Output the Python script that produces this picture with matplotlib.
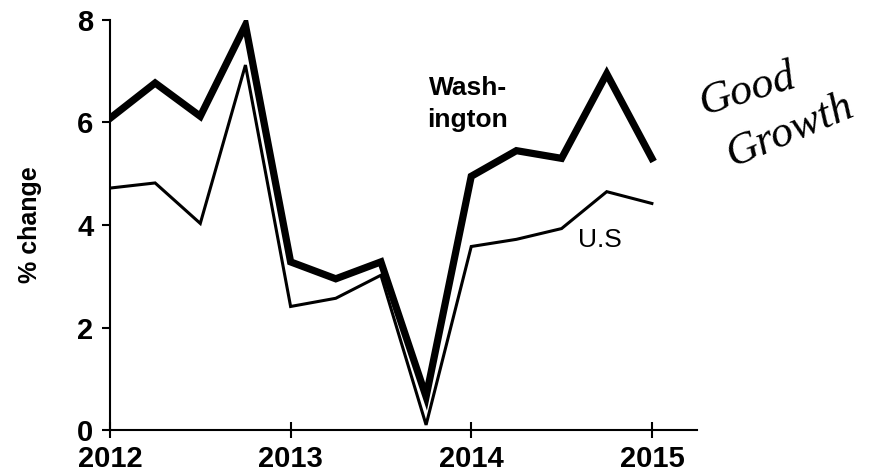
import numpy as np
import matplotlib
matplotlib.use('Agg')
import matplotlib.pyplot as plt

# quarterly data
quarters = [2012.0, 2012.25, 2012.5, 2012.75, 2013.0, 2013.25, 2013.5, 2013.75,
            2014.0, 2014.25, 2014.5, 2014.75, 2015.0]
washington = [6.08, 6.77, 6.12, 7.9, 3.28, 2.95, 3.28, 0.65,
              4.95, 5.45, 5.3, 6.95, 5.3]
us = [4.72, 4.82, 4.03, 7.12, 2.41, 2.57, 3.02, 0.1,
      3.58, 3.72, 3.93, 4.65, 4.42]
year_ticks = [2012, 2013, 2014, 2015]
y_ticks = [0, 2, 4, 6, 8]

plt.rcParams['font.family'] = ['Liberation Sans', 'DejaVu Sans']

fig = plt.figure(figsize=(8.79, 4.75), dpi=100)
ax = fig.add_axes([0.1251, 0.0947, 0.793 - 0.1251, 0.958 - 0.0947])

ax.plot(quarters, washington, color='black', linewidth=5.2, solid_joinstyle='miter')
ax.plot(quarters, us, color='black', linewidth=2.2, solid_joinstyle='miter')

ax.set_xlim(2012, 2015.25)
ax.set_ylim(0, 8)
ax.set_xticks(year_ticks)
ax.set_yticks(y_ticks)
ax.set_xticklabels([str(y) for y in year_ticks], fontsize=21, fontweight='bold')
ax.set_yticklabels([str(v) for v in y_ticks], fontsize=21, fontweight='bold')
ax.tick_params(axis='x', direction='inout', length=11, width=1.5, pad=5)
ax.tick_params(axis='y', direction='out', length=6, width=1.5, pad=6)

for s in ['top', 'right']:
    ax.spines[s].set_visible(False)
for s in ['left', 'bottom']:
    ax.spines[s].set_linewidth(1.5)
ax.set_ylabel('% change', fontsize=18, fontweight='bold', labelpad=25)

# line labels
ax.text(2013.98, 5.82, 'Wash-\nington', fontsize=19, fontweight='bold',
        ha='center', va='bottom', linespacing=1.4)
ax.text(2014.59, 3.47, 'U.S', fontsize=19, ha='left', va='bottom')

# handwritten note
fig.text(0.851, 0.81, 'Good', fontsize=32, fontstyle='italic',
         family='Liberation Serif', rotation=17, ha='center', va='center')
fig.text(0.899, 0.725, 'Growth', fontsize=32, fontstyle='italic',
         family='Liberation Serif', rotation=23, ha='center', va='center')

fig.savefig('out.png', dpi=100)
